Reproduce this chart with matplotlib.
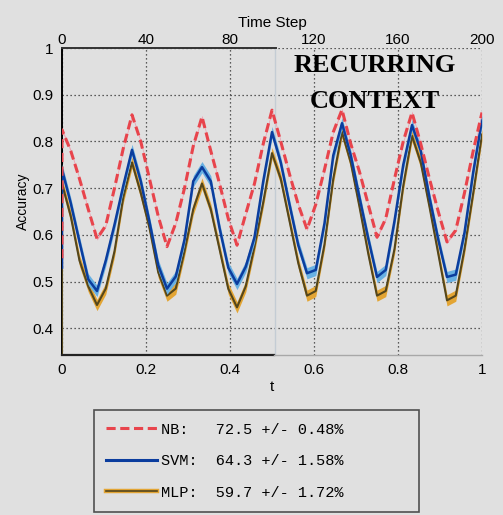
import numpy as np
import matplotlib
matplotlib.use('Agg')
import matplotlib.pyplot as plt
from matplotlib.lines import Line2D

# Données (t de 0 à 1, pas de 1/48) ; le premier point est la valeur de départ au pas 0
t_grid = np.linspace(0, 1, 49)
start_vals = {'NB': 0.55, 'SVM': 0.53, 'MLP': 0.343}

nb_acc = [0.825, 0.78, 0.72, 0.655, 0.592, 0.62, 0.70, 0.785, 0.857,
          0.80, 0.72, 0.64, 0.575, 0.625, 0.70, 0.79, 0.853,
          0.78, 0.71, 0.635, 0.578, 0.645, 0.71, 0.795, 0.867,
          0.80, 0.73, 0.665, 0.612, 0.665, 0.74, 0.82, 0.868,
          0.795, 0.735, 0.665, 0.595, 0.635, 0.72, 0.80, 0.862,
          0.795, 0.72, 0.65, 0.585, 0.61, 0.69, 0.78, 0.862]
svm_acc = [0.74, 0.668, 0.585, 0.505, 0.48, 0.545, 0.622, 0.705, 0.782,
           0.715, 0.628, 0.535, 0.485, 0.511, 0.59, 0.715, 0.745,
           0.715, 0.615, 0.53, 0.495, 0.532, 0.595, 0.715, 0.82,
           0.755, 0.665, 0.578, 0.518, 0.525, 0.625, 0.77, 0.839,
           0.77, 0.68, 0.592, 0.51, 0.525, 0.63, 0.75, 0.835,
           0.78, 0.68, 0.59, 0.51, 0.515, 0.605, 0.735, 0.846]
mlp_acc = [0.71, 0.64, 0.545, 0.49, 0.45, 0.485, 0.565, 0.68, 0.755,
           0.69, 0.615, 0.52, 0.47, 0.485, 0.565, 0.655, 0.71,
           0.655, 0.57, 0.485, 0.445, 0.49, 0.575, 0.67, 0.775,
           0.72, 0.63, 0.54, 0.47, 0.48, 0.58, 0.72, 0.82,
           0.755, 0.66, 0.56, 0.47, 0.48, 0.57, 0.705, 0.812,
           0.755, 0.66, 0.56, 0.46, 0.47, 0.57, 0.69, 0.815]

# demi-largeur des bandes d'erreur
band = {'NB': 0.003, 'SVM': 0.012, 'MLP': 0.012}

legend_labels = ['NB:   72.5 +/- 0.48%',
                 'SVM:  64.3 +/- 1.58%',
                 'MLP:  59.7 +/- 1.72%']

x_ticks = [0, 0.2, 0.4, 0.6, 0.8, 1]
x_ticklabels = ['0', '0.2', '0.4', '0.6', '0.8', '1']
y_ticks = [0.4, 0.5, 0.6, 0.7, 0.8, 0.9, 1.0]
y_ticklabels = ['0.4', '0.5', '0.6', '0.7', '0.8', '0.9', '1']
top_ticks = [0, 40, 80, 120, 160, 200]

bg = '#e0e0e0'
plt.rcParams['font.family'] = ['Liberation Sans', 'DejaVu Sans']

fig = plt.figure(figsize=(5.03, 5.15), dpi=100, facecolor=bg)
ax = fig.add_axes([62 / 503, 160 / 515, 420 / 503, 307 / 515], facecolor=bg)

t = np.r_[0.0, t_grid]
nb = np.r_[start_vals['NB'], nb_acc]
svm = np.r_[start_vals['SVM'], svm_acc]
mlp = np.r_[start_vals['MLP'], mlp_acc]

# MLP
ax.fill_between(t, mlp - band['MLP'], mlp + band['MLP'], color='#e3a534', lw=0, zorder=2)
ax.plot(t, mlp, color='#54461c', lw=1.5, zorder=3)
# SVM
ax.fill_between(t, svm - band['SVM'], svm + band['SVM'], color='#68b0e2', lw=0, zorder=4)
ax.plot(t, svm, color='#0b3d9e', lw=1.8, zorder=5)
# NB
ax.fill_between(t, nb - band['NB'], nb + band['NB'], color='#f0a0b0', lw=0, zorder=6)
ax.plot(t, nb, color='#e8444c', lw=2.2, dashes=(3, 1.5), zorder=7)

ax.set_xlim(0, 1)
ax.set_ylim(0.343, 1.0)
ax.set_xticks(x_ticks)
ax.set_xticklabels(x_ticklabels)
ax.set_yticks(y_ticks)
ax.set_yticklabels(y_ticklabels)
ax.tick_params(length=0, pad=6, labelsize=11)
ax.grid(True, color='#303030', lw=0.9, linestyle=(0, (1, 2.2)))
ax.set_axisbelow(True)

ax.set_xlabel('t', fontsize=11, labelpad=2)
ax.set_ylabel('Accuracy', fontsize=10, labelpad=2)

# cadre : moitié gauche noire, moitié droite grise
for s in ['top', 'bottom', 'right']:
    ax.spines[s].set_visible(False)
ax.spines['left'].set_linewidth(1.4)
ax.axhline(0.343, xmin=0, xmax=0.505, color='#222222', lw=1.6, zorder=8, clip_on=False)
ax.axhline(0.343, xmin=0.505, xmax=1, color='#a8a8a8', lw=1.0, zorder=8, clip_on=False)
ax.axhline(1.0, xmin=0, xmax=0.51, color='#333333', lw=1.4, zorder=8, clip_on=False)
ax.axvline(0.508, color='#c4ccd4', lw=1.0, zorder=1)

# axe du haut : Time Step
top = ax.secondary_xaxis('top', functions=(lambda x: x * 200, lambda s: s / 200))
top.set_xticks(top_ticks)
top.tick_params(length=0, pad=1, labelsize=11)
top.spines['top'].set_visible(False)
top.set_xlabel('Time Step', fontsize=11, labelpad=4)

ax.text(0.745, 0.885, 'RECURRING\nCONTEXT', transform=ax.transAxes, ha='center', va='center',
        fontsize=19, fontweight='bold', family='Liberation Serif', linespacing=1.75, zorder=9)

h_nb = Line2D([], [], color='#e8444c', lw=2.2, dashes=(3, 1.5))
h_svm = Line2D([], [], color='#0b3d9e', lw=2.2)
h_mlp = (Line2D([], [], color='#e3a534', lw=3.2), Line2D([], [], color='#54461c', lw=1.2))
leg = fig.legend([h_nb, h_svm, h_mlp], legend_labels, loc='lower left',
                 bbox_to_anchor=(94 / 503, 3 / 515, 325 / 503, 101 / 515), mode='expand',
                 borderaxespad=0, fancybox=False, framealpha=1, facecolor=bg, edgecolor='#505050',
                 handlelength=3.3, handletextpad=0.3, borderpad=0.8, labelspacing=1.15,
                 prop={'family': 'Liberation Mono', 'size': 11})
leg.get_frame().set_linewidth(1.2)

fig.savefig('out.png', dpi=100, facecolor=bg)
